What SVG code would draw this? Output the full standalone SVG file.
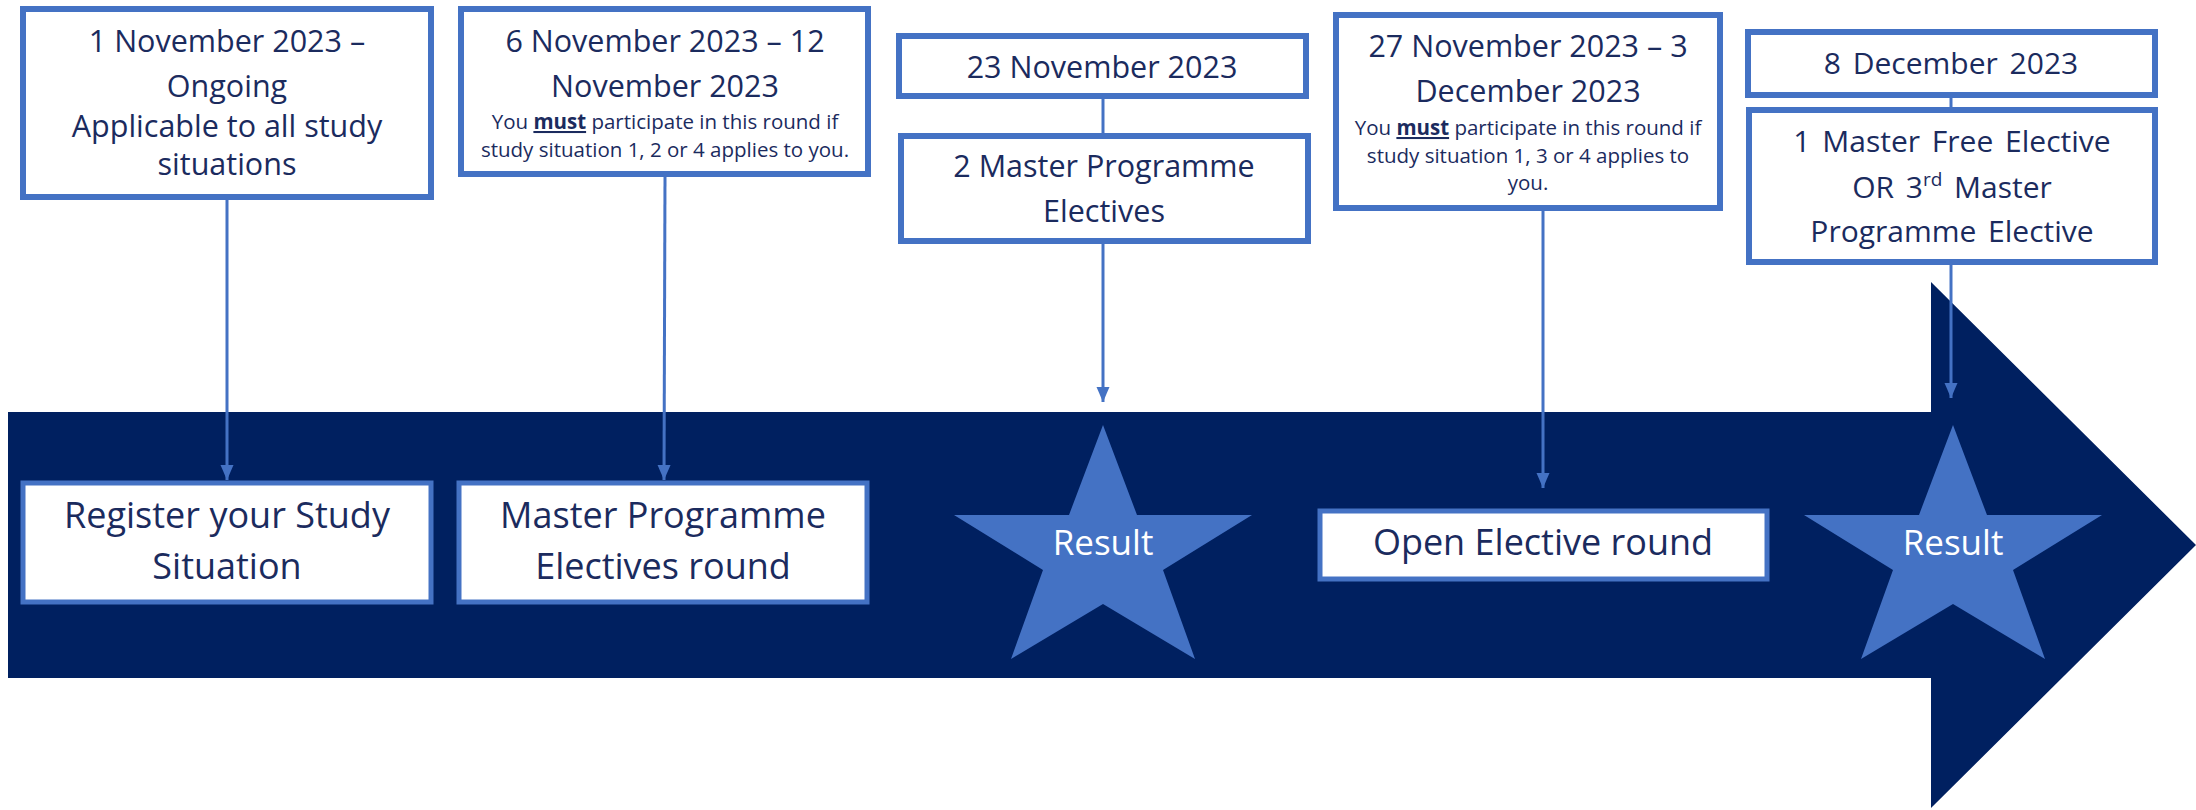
<svg xmlns="http://www.w3.org/2000/svg" width="2196" height="810" viewBox="0 0 2196 810">
<style>
.box{fill:#ffffff;stroke:#4472C4;stroke-width:6}
.box2{fill:#ffffff;stroke:#4472C4;stroke-width:5}
.t{font-family:"Open Sans","Liberation Sans",Arial,sans-serif;fill:#1B2B5E;text-anchor:middle}
.big{font-size:30.5px}
.lab{font-size:36px}
.small{font-size:20.5px}
.os{font-size:30px;word-spacing:4px}
.res{font-family:"Open Sans","Liberation Sans",Arial,sans-serif;font-size:35px;fill:#ffffff;text-anchor:middle}
.con{stroke:#4472C4;stroke-width:3;fill:none}
.arr{marker-end:url(#ah)}
</style>
<defs>
<marker id="ah" markerUnits="userSpaceOnUse" markerWidth="16" markerHeight="14" refX="15" refY="6.5" orient="auto">
<path d="M0,0 L15,6.5 L0,13 z" fill="#4472C4"/>
</marker>
<path id="star" d="M0,0 L34,90 L149,90 L60,145 L92,234 L0,179 L-92,234 L-60,145 L-149,90 L-34,90 Z" fill="#4472C4"/>
</defs>

<g id="timeline">
<polygon points="8,412 1931,412 1931,282 2196,545 1931,808 1931,678 8,678" fill="#002060"/>
</g>

<g id="result1">
<use href="#star" transform="translate(1103,425)"/>
<text class="res" x="1103" y="555">Result</text>
</g>
<g id="result2">
<use href="#star" transform="translate(1953,425)"/>
<text class="res" x="1953" y="555">Result</text>
</g>

<g id="date1">
<rect class="box" x="23" y="9" width="408" height="188"/>
<text class="t big" x="227" y="52">1 November  2023 –</text>
<text class="t big" x="227" y="97">Ongoing</text>
<text class="t big" x="227" y="137">Applicable to all study</text>
<text class="t big" x="227" y="175">situations</text>
</g>

<g id="date2">
<rect class="box" x="461" y="9" width="407" height="165"/>
<text class="t big" x="665" y="52">6 November  2023 – 12</text>
<text class="t big" x="665" y="97">November  2023</text>
<text class="t small" x="665" y="129">You <tspan font-weight="bold" text-decoration="underline">must</tspan> participate in this round if</text>
<text class="t small" x="665" y="157">study situation 1, 2 or 4 applies to you.</text>
</g>

<g id="date3">
<rect class="box" x="899" y="36" width="407" height="60"/>
<text class="t big" x="1102" y="78">23 November  2023</text>
</g>

<g id="electives2">
<rect class="box" x="901" y="136" width="407" height="105"/>
<text class="t big" x="1104" y="177">2 Master Programme</text>
<text class="t big" x="1104" y="222">Electives</text>
</g>

<g id="date4">
<rect class="box" x="1336" y="15" width="384" height="193"/>
<text class="t big" x="1528" y="57">27 November  2023 – 3</text>
<text class="t big" x="1528" y="102">December  2023</text>
<text class="t small" x="1528" y="135">You <tspan font-weight="bold" text-decoration="underline">must</tspan> participate in this round if</text>
<text class="t small" x="1528" y="163">study situation 1, 3 or 4 applies to</text>
<text class="t small" x="1528" y="190">you.</text>
</g>

<g id="date5">
<rect class="box" x="1748" y="32" width="407" height="63"/>
<text class="t os" x="1951" y="74">8 December  2023</text>
</g>

<g id="elective1">
<rect class="box" x="1749" y="110" width="406" height="152"/>
<text class="t os" x="1952" y="152">1 Master Free Elective</text>
<text class="t os" x="1952" y="198">OR 3<tspan font-size="19px" dy="-12">rd</tspan><tspan dy="12"> Master</tspan></text>
<text class="t os" x="1952" y="242">Programme Elective</text>
</g>

<g id="register">
<rect class="box2" x="23" y="483" width="408" height="119"/>
<text class="t lab" x="227" y="528">Register your Study</text>
<text class="t lab" x="227" y="579">Situation</text>
</g>

<g id="mpround">
<rect class="box2" x="459" y="483" width="408" height="119"/>
<text class="t lab" x="663" y="528">Master Programme</text>
<text class="t lab" x="663" y="579">Electives round</text>
</g>

<g id="openround">
<rect class="box2" x="1320" y="511" width="447" height="68"/>
<text class="t lab" x="1543" y="555">Open Elective round</text>
</g>

<g id="connectors">
<line class="con arr" x1="227" y1="200" x2="227" y2="480"/>
<line class="con arr" x1="665" y1="177" x2="664" y2="480"/>
<line class="con" x1="1103" y1="99" x2="1103" y2="133"/>
<line class="con arr" x1="1103" y1="244" x2="1103" y2="402"/>
<line class="con arr" x1="1543" y1="211" x2="1543" y2="488"/>
<line class="con" x1="1951" y1="98" x2="1951" y2="107"/>
<line class="con arr" x1="1951" y1="265" x2="1951" y2="398"/>
</g>
</svg>
